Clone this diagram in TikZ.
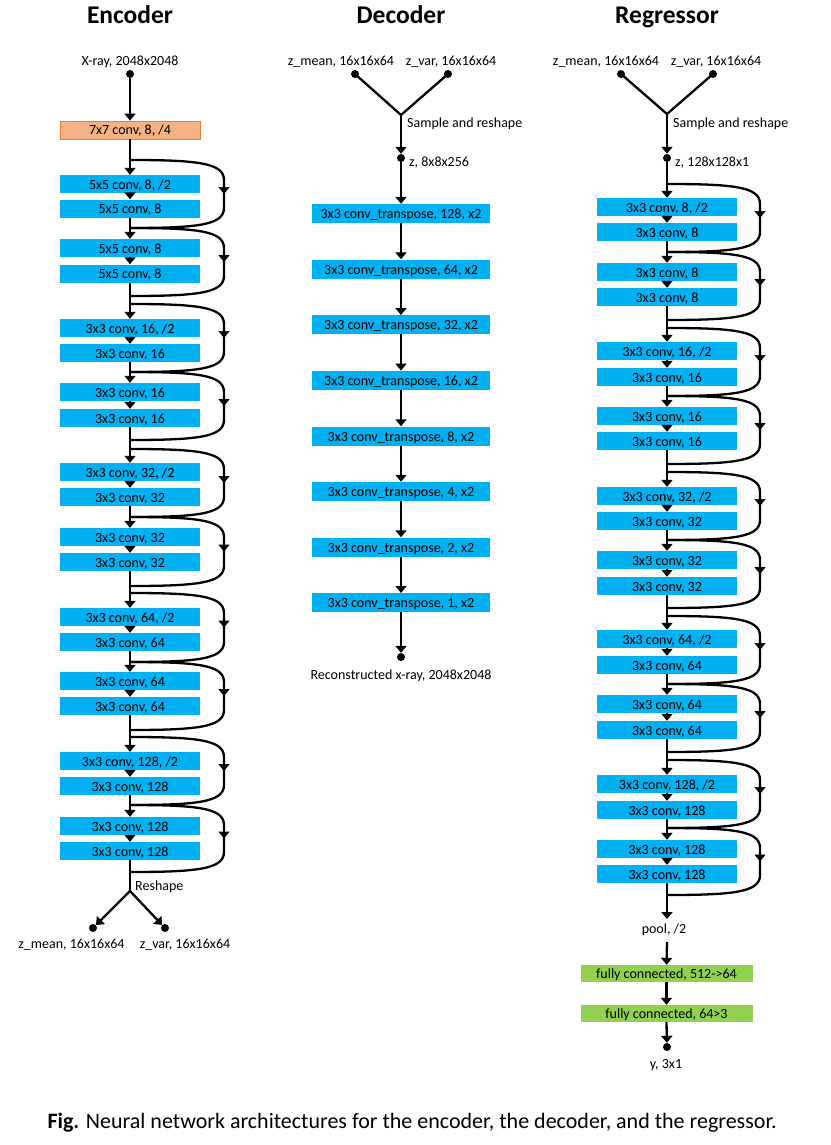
\documentclass[tikz,border=0pt]{standalone}
\usepackage{fontspec}
\setmainfont{Carlito}
\usetikzlibrary{arrows.meta,decorations.markings}
\definecolor{convblue}{HTML}{00B0F0}
\definecolor{orfill}{HTML}{F4B183}
\definecolor{ordraw}{HTML}{ED7D31}
\definecolor{fcgreen}{HTML}{92D050}
\tikzset{
  txt/.style={font=\fontsize{14}{16}\selectfont},
  conv/.style={txt, fill=convblue, minimum width=140pt, minimum height=18pt, inner sep=0pt, text height=11pt, text depth=1pt},
  tconv/.style={conv, minimum width=178pt, minimum height=19pt},
  firstconv/.style={conv, fill=orfill, draw=ordraw, line width=0.8pt},
  fcbox/.style={conv, fill=fcgreen, minimum width=172pt, minimum height=17pt},
  wire/.style={line width=2.3pt},
  arr/.style={wire, -{Triangle[width=11pt,length=7pt]}},
  skiparr/.style={wire, decoration={markings, mark=at position 0.5 with {\arrow{Triangle[width=11pt,length=7pt]}}}, postaction={decorate}},
  dotnode/.style={circle, fill=black, inner sep=0pt, minimum size=8pt},
  lbl/.style={txt, inner sep=0pt, anchor=base},
  lblw/.style={txt, inner sep=0pt, anchor=base west},
  ttl/.style={font=\fontsize{25.5}{28}\selectfont\bfseries, anchor=base, inner sep=0pt},
}
% #1 prefix, #2 centre x, #3 right x, #4 start y, #5 box1 y, #6 box2 y, #7 end y, #8 text1, #9 text2
\newcommand\resblk[9]{%
  \coordinate (#1s) at (#2,#4);
  \coordinate (#1e) at (#2,#7);
  \node[conv] (#1a) at (#2,#5) {#8};
  \node[conv] (#1b) at (#2,#6) {#9};
  \draw[arr] (#1s) -- (#1a.north);
  \draw[arr] (#1a.south) -- (#1b.north);
  \draw[wire] (#1b.south) -- (#1e);
  \draw[skiparr] (#1s) .. controls (#2+68,#4) and (#3,#4+3) .. (#3,#4+20) -- (#3,#7-20) .. controls (#3,#7-3) and (#2+68,#7) .. (#1e);
}
\begin{document}
\begin{tikzpicture}[x=1pt,y=-1pt]
\fill[white] (0,0) rectangle (830,1145);
\useasboundingbox (0,0) rectangle (830,1145);

% ---------------- Encoder ----------------
\node[ttl] (tenc) at (130,24) {Encoder};
\node[lbl] (xin) at (130,66) {X-ray, 2048x2048};
\node[dotnode] (xdot) at (130,74) {};
\node[firstconv] (c7) at (130,130) {7x7 conv, 8, /4};
\draw[arr] (xdot) -- (c7.north);
\resblk{ea}{130}{224}{160}{184}{208.5}{228}{5x5 conv, 8, /2}{5x5 conv, 8}
\resblk{eb}{130}{224}{228}{248}{273.5}{296}{5x5 conv, 8}{5x5 conv, 8}
\resblk{ec}{130}{224}{304}{328}{353}{372}{3x3 conv, 16, /2}{3x3 conv, 16}
\resblk{ed}{130}{224}{372}{392}{418}{440}{3x3 conv, 16}{3x3 conv, 16}
\resblk{ee}{130}{224}{449}{472}{497}{517}{3x3 conv, 32, /2}{3x3 conv, 32}
\resblk{ef}{130}{224}{517}{537}{562}{586}{3x3 conv, 32}{3x3 conv, 32}
\resblk{eg}{130}{224}{593}{617}{642}{662}{3x3 conv, 64, /2}{3x3 conv, 64}
\resblk{eh}{130}{224}{662}{681}{706}{730}{3x3 conv, 64}{3x3 conv, 64}
\resblk{ei}{130}{224}{737}{761}{786}{805}{3x3 conv, 128, /2}{3x3 conv, 128}
\resblk{ej}{130}{224}{805}{826}{851}{872}{3x3 conv, 128}{3x3 conv, 128}
\draw[wire] (c7.south) -- (eas);
\draw[wire] (ebe) -- (ecs);
\draw[wire] (ede) -- (ees);
\draw[wire] (efe) -- (egs);
\draw[wire] (ehe) -- (eis);
\coordinate (ejn) at (130,891);
\draw[wire] (eje) -- (ejn);
\node[lblw] (reshape) at (135,890) {Reshape};
\node[dotnode] (ezm) at (93,928) {};
\node[dotnode] (ezv) at (165,928) {};
\draw[arr] (ejn) -- (ezm);
\draw[arr] (ejn) -- (ezv);
\node[lbl] (ezml) at (71.5,948) {z\_mean, 16x16x64};
\node[lbl] (ezvl) at (185,948) {z\_var, 16x16x64};

% ---------------- Decoder ----------------
\node[ttl] (tdec) at (401,24) {Decoder};
\node[lbl] (dml) at (341,66) {z\_mean, 16x16x64};
\node[lbl] (dvl) at (451,66) {z\_var, 16x16x64};
\node[dotnode] (dmd) at (355,74) {};
\node[dotnode] (dvd) at (448,74) {};
\coordinate (dj) at (401,115);
\draw[wire, line join=round] (dmd.center) -- (dj) -- (dvd.center);
\node[lblw] (dsr) at (407,128) {Sample and reshape};
\node[dotnode] (dz) at (401,158) {};
\node[lblw] (dzl) at (409,166) {z, 8x8x256};
\draw[arr] (dj) -- (dz);
\node[tconv] (d1) at (401,213.5) {3x3 conv\_transpose, 128, x2};
\node[tconv] (d2) at (401,269) {3x3 conv\_transpose, 64, x2};
\node[tconv] (d3) at (401,324.7) {3x3 conv\_transpose, 32, x2};
\node[tconv] (d4) at (401,380.3) {3x3 conv\_transpose, 16, x2};
\node[tconv] (d5) at (401,436) {3x3 conv\_transpose, 8, x2};
\node[tconv] (d6) at (401,491.5) {3x3 conv\_transpose, 4, x2};
\node[tconv] (d7) at (401,547) {3x3 conv\_transpose, 2, x2};
\node[tconv] (d8) at (401,602.7) {3x3 conv\_transpose, 1, x2};
\draw[arr] (dz) -- (d1.north);
\draw[arr] (d1.south) -- (d2.north);
\draw[arr] (d2.south) -- (d3.north);
\draw[arr] (d3.south) -- (d4.north);
\draw[arr] (d4.south) -- (d5.north);
\draw[arr] (d5.south) -- (d6.north);
\draw[arr] (d6.south) -- (d7.north);
\draw[arr] (d7.south) -- (d8.north);
\node[dotnode] (dout) at (401,657) {};
\draw[arr] (d8.south) -- (dout);
\node[lbl] (doutl) at (401,679) {Reconstructed x-ray, 2048x2048};

% ---------------- Regressor ----------------
\node[ttl] (treg) at (667,24) {Regressor};
\node[lbl] (rml) at (606,66) {z\_mean, 16x16x64};
\node[lbl] (rvl) at (716,66) {z\_var, 16x16x64};
\node[dotnode] (rmd) at (621,74) {};
\node[dotnode] (rvd) at (713,74) {};
\coordinate (rj) at (667,114);
\draw[wire, line join=round] (rmd.center) -- (rj) -- (rvd.center);
\node[lblw] (rsr) at (673,128) {Sample and reshape};
\node[dotnode] (rz) at (667,158) {};
\node[lblw] (rzl) at (675,166) {z, 128x128x1};
\draw[arr] (rj) -- (rz);
\resblk{ra}{667}{760}{184}{207}{232}{252}{3x3 conv, 8, /2}{3x3 conv, 8}
\resblk{rb}{667}{760}{252}{272}{297}{320}{3x3 conv, 8}{3x3 conv, 8}
\resblk{rc}{667}{760}{328}{351}{377}{396}{3x3 conv, 16, /2}{3x3 conv, 16}
\resblk{rd}{667}{760}{396}{416}{441}{464}{3x3 conv, 16}{3x3 conv, 16}
\resblk{re}{667}{760}{472}{496}{521}{540}{3x3 conv, 32, /2}{3x3 conv, 32}
\resblk{rf}{667}{760}{540}{560}{586}{608}{3x3 conv, 32}{3x3 conv, 32}
\resblk{rg}{667}{760}{616}{639}{665}{684}{3x3 conv, 64, /2}{3x3 conv, 64}
\resblk{rh}{667}{760}{684}{704}{730}{752}{3x3 conv, 64}{3x3 conv, 64}
\resblk{ri}{667}{760}{760}{784}{810}{828}{3x3 conv, 128, /2}{3x3 conv, 128}
\resblk{rj}{667}{760}{828}{849}{874}{895}{3x3 conv, 128}{3x3 conv, 128}
\draw[wire] (rz) -- (ras);
\draw[wire] (rbe) -- (rcs);
\draw[wire] (rde) -- (res);
\draw[wire] (rfe) -- (rgs);
\draw[wire] (rhe) -- (ris);
\node[lbl] (pool) at (664,933) {pool, /2};
\coordinate (pt) at (667,919);
\draw[arr] (rje) -- (pt);
\node[fcbox] (fc1) at (666.5,973.5) {fully connected, 512->64};
\node[fcbox] (fc2) at (666.5,1013.5) {fully connected, 64>3};
\coordinate (ps) at (667,942);
\draw[arr] (ps) -- (fc1.north);
\draw[arr] (fc1.south) -- (fc2.north);
\node[dotnode] (ydot) at (667,1047) {};
\draw[arr] (fc2.south) -- (ydot);
\node[lbl] (yl) at (666,1068) {y, 3x1};

% ---------------- Caption ----------------
\node[font=\fontsize{22}{26}\selectfont, anchor=base] (cap) at (412,1128) {\textbf{Fig.} Neural network architectures for the encoder, the decoder, and the regressor.};
\end{tikzpicture}
\end{document}
